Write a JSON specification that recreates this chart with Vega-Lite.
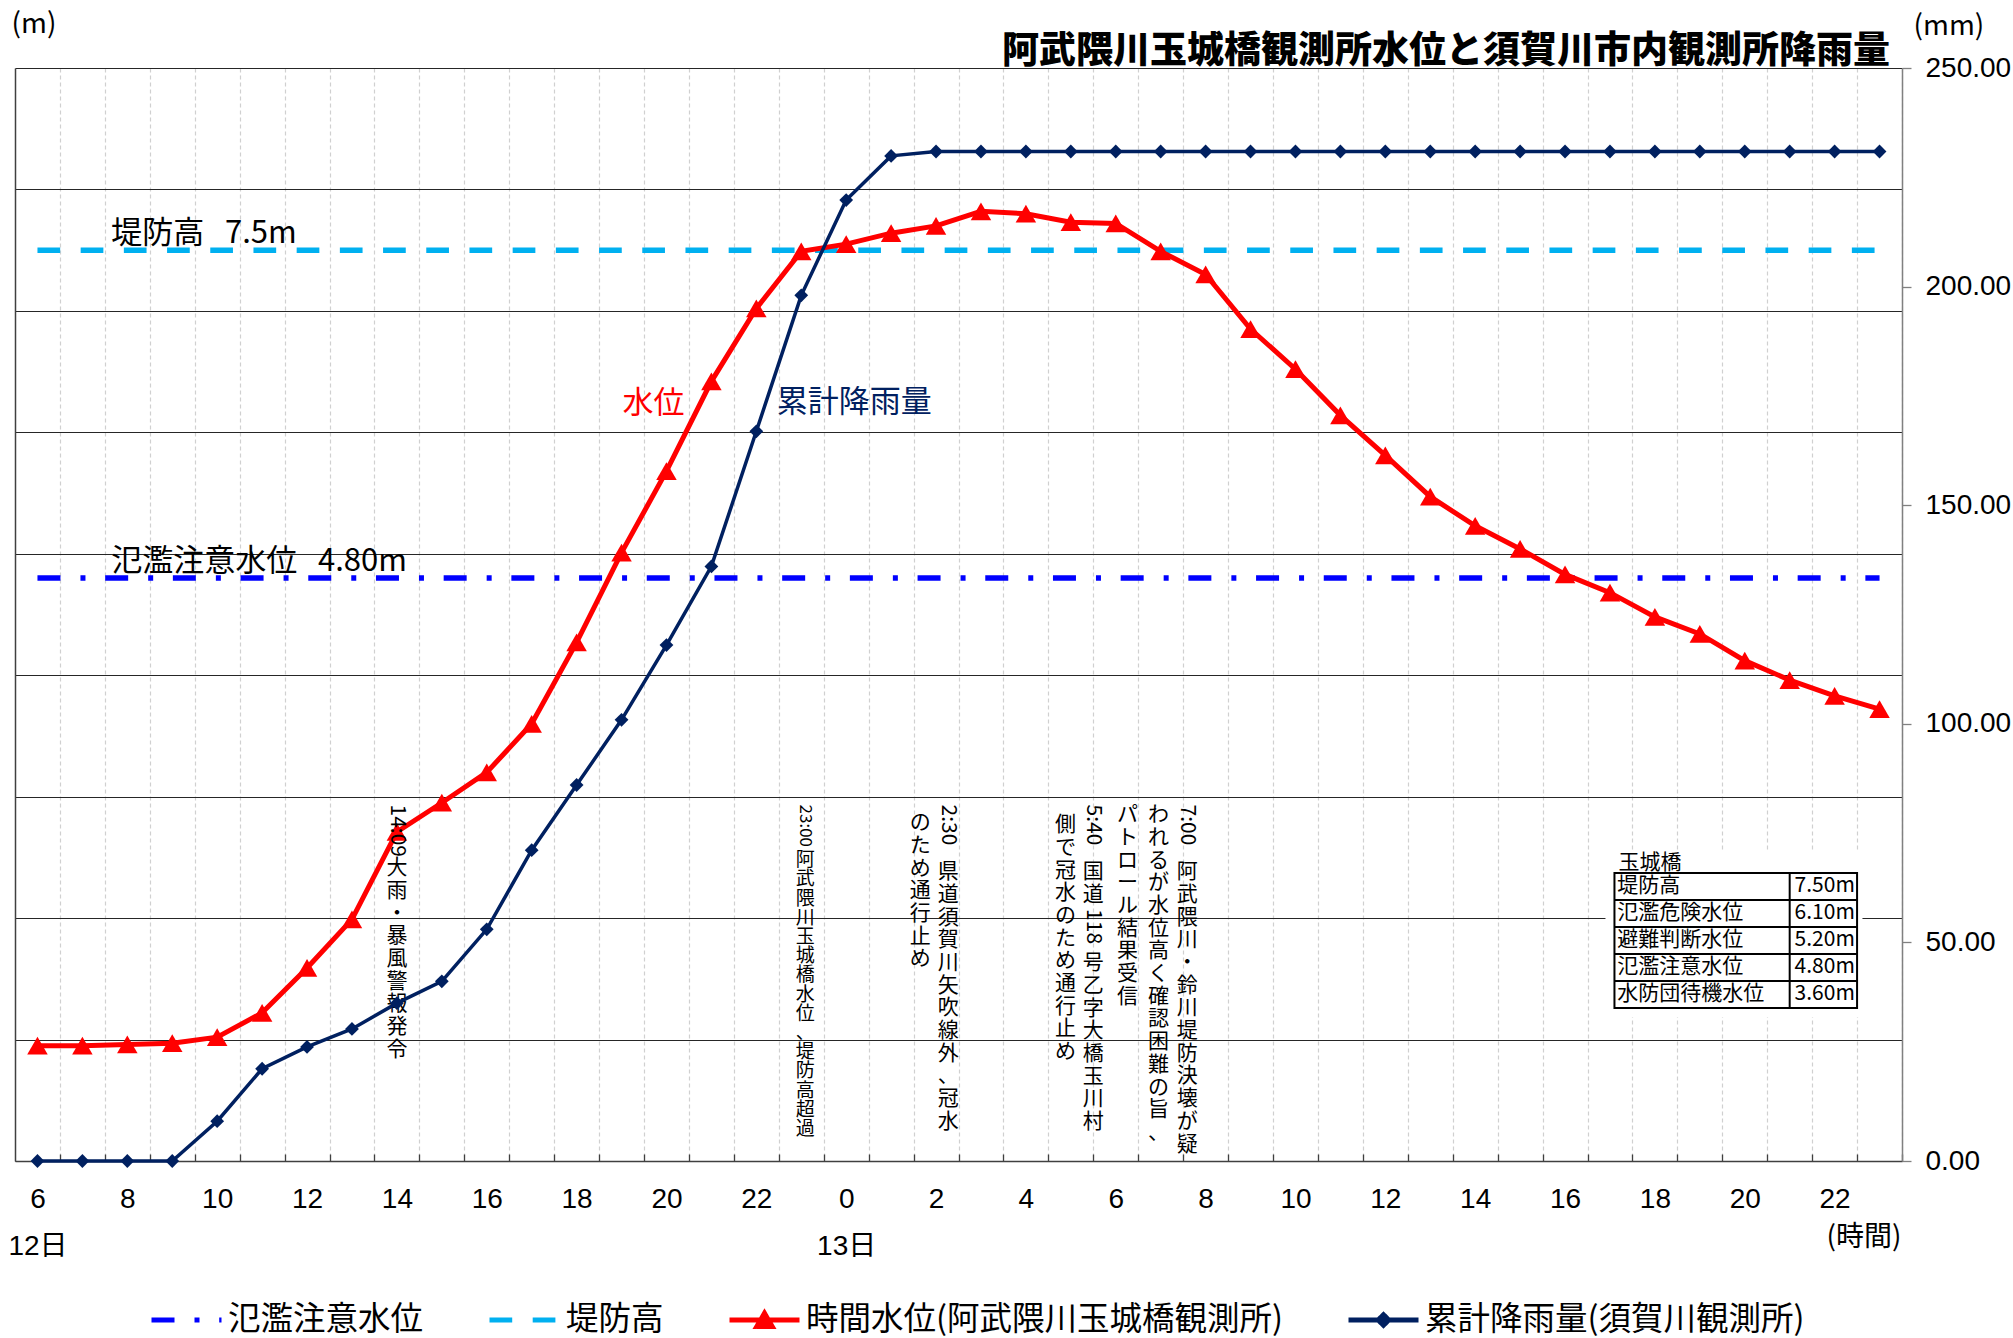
{
  "$schema": "https://vega.github.io/schema/vega-lite/v6.json",
  "width": 1887,
  "height": 1093,
  "autosize": {"type": "none"},
  "padding": {"left": 15, "top": 68, "right": 111, "bottom": 177},
  "background": "white",
  "title": {
    "text": "阿武隈川玉城橋観測所水位と須賀川市内観測所降雨量",
    "anchor": "end",
    "frame": "group",
    "font": "Noto Sans CJK JP",
    "fontSize": 37,
    "fontWeight": 900,
    "color": "black",
    "offset": -61,
    "dx": -12
  },
  "config": {
    "font": "Noto Sans CJK JP",
    "view": {"stroke": null},
    "text": {"color": "black"},
    "legend": {"symbolOpacity": 1, "symbolStrokeWidth": 5}
  },
  "datasets": {
    "level": [
      {"t": 6, "level": 0.95}, {"t": 7, "level": 0.95}, {"t": 8, "level": 0.96}, {"t": 9, "level": 0.97},
      {"t": 10, "level": 1.02}, {"t": 11, "level": 1.22}, {"t": 12, "level": 1.59}, {"t": 13, "level": 1.99},
      {"t": 14, "level": 2.71}, {"t": 15, "level": 2.95}, {"t": 16, "level": 3.2}, {"t": 17, "level": 3.6},
      {"t": 18, "level": 4.27}, {"t": 19, "level": 5.01}, {"t": 20, "level": 5.68}, {"t": 21, "level": 6.42},
      {"t": 22, "level": 7.02}, {"t": 23, "level": 7.49}, {"t": 24, "level": 7.55}, {"t": 25, "level": 7.64},
      {"t": 26, "level": 7.7}, {"t": 27, "level": 7.82}, {"t": 28, "level": 7.8}, {"t": 29, "level": 7.73},
      {"t": 30, "level": 7.72}, {"t": 31, "level": 7.49}, {"t": 32, "level": 7.3}, {"t": 33, "level": 6.85},
      {"t": 34, "level": 6.52}, {"t": 35, "level": 6.14}, {"t": 36, "level": 5.81}, {"t": 37, "level": 5.47},
      {"t": 38, "level": 5.23}, {"t": 39, "level": 5.04}, {"t": 40, "level": 4.83}, {"t": 41, "level": 4.68},
      {"t": 42, "level": 4.48}, {"t": 43, "level": 4.34}, {"t": 44, "level": 4.12}, {"t": 45, "level": 3.96},
      {"t": 46, "level": 3.83}, {"t": 47, "level": 3.72}
    ],
    "rain": [
      {"t": 6, "rain": 0}, {"t": 7, "rain": 0}, {"t": 8, "rain": 0}, {"t": 9, "rain": 0},
      {"t": 10, "rain": 9.1}, {"t": 11, "rain": 21.1}, {"t": 12, "rain": 26.1}, {"t": 13, "rain": 30.2},
      {"t": 14, "rain": 36.1}, {"t": 15, "rain": 41.1}, {"t": 16, "rain": 53.0}, {"t": 17, "rain": 71.1},
      {"t": 18, "rain": 86.0}, {"t": 19, "rain": 100.9}, {"t": 20, "rain": 118.0}, {"t": 21, "rain": 136.0},
      {"t": 22, "rain": 166.9}, {"t": 23, "rain": 198.0}, {"t": 24, "rain": 219.8}, {"t": 25, "rain": 229.9},
      {"t": 26, "rain": 230.9}, {"t": 27, "rain": 230.9}, {"t": 28, "rain": 230.9}, {"t": 29, "rain": 230.9},
      {"t": 30, "rain": 230.9}, {"t": 31, "rain": 230.9}, {"t": 32, "rain": 230.9}, {"t": 33, "rain": 230.9},
      {"t": 34, "rain": 230.9}, {"t": 35, "rain": 230.9}, {"t": 36, "rain": 230.9}, {"t": 37, "rain": 230.9},
      {"t": 38, "rain": 230.9}, {"t": 39, "rain": 230.9}, {"t": 40, "rain": 230.9}, {"t": 41, "rain": 230.9},
      {"t": 42, "rain": 230.9}, {"t": 43, "rain": 230.9}, {"t": 44, "rain": 230.9}, {"t": 45, "rain": 230.9},
      {"t": 46, "rain": 230.9}, {"t": 47, "rain": 230.9}
    ],
    "series": [
      {"series": "氾濫注意水位"},
      {"series": "堤防高"},
      {"series": "時間水位(阿武隈川玉城橋観測所)"},
      {"series": "累計降雨量(須賀川観測所)"}
    ],
    "thresholds": [
      {"series": "氾濫注意水位", "level": 4.8, "label": "氾濫注意水位\u00a0\u00a0\u00a04.80m"},
      {"series": "堤防高", "level": 7.5, "label": "堤防高\u00a0\u00a0\u00a07.5m"}
    ],
    "seriesLabels": [
      {"series": "時間水位(阿武隈川玉城橋観測所)", "text": "水位", "t": 19.71, "level": 6.23},
      {"series": "累計降雨量(須賀川観測所)", "text": "累計降雨量", "t": 24.18, "level": 6.24}
    ],
    "noteTimes": [
      {"t": 14.0, "level": 2.935, "text": "14:09"},
      {"t": 26.27, "level": 2.935, "text": "2:30"},
      {"t": 29.5, "level": 2.935, "text": "5:40"},
      {"t": 31.59, "level": 2.935, "text": "7:00"},
      {"t": 29.5, "level": 2.074, "text": "118"}
    ],
    "noteTime23": [
      {"t": 23.09, "level": 2.935, "text": "23:00"}
    ],
    "noteBodies": [
      {"t": 14.0, "level": 2.502, "text": "大\n雨\n・\n暴\n風\n警\n報\n発\n令"},
      {"t": 26.27, "level": 2.469, "text": "県\n道\n須\n賀\n川\n矢\n吹\n線\n外\n、\n冠\n水"},
      {"t": 25.65, "level": 2.872, "text": "の\nた\nめ\n通\n行\n止\nめ"},
      {"t": 29.5, "level": 2.469, "text": "国\n道"},
      {"t": 29.5, "level": 1.72, "text": "号\n乙\n字\n大\n橋\n玉\n川\n村"},
      {"t": 28.88, "level": 2.856, "text": "側\nで\n冠\n水\nの\nた\nめ\n通\n行\n止\nめ"},
      {"t": 31.59, "level": 2.469, "text": "阿\n武\n隈\n川\n・\n鈴\n川\n堤\n防\n決\n壊\nが\n疑"},
      {"t": 30.95, "level": 2.938, "text": "わ\nれ\nる\nが\n水\n位\n高\nく\n確\n認\n困\n難\nの\n旨\n、"},
      {"t": 30.26, "level": 2.938, "text": "パ\nト\nロ\nー\nル\n結\n果\n受\n信"}
    ],
    "noteBody23": [
      {"t": 23.09, "level": 2.551, "text": "阿\n武\n隈\n川\n玉\n城\n橋\n水\n位\n、\n堤\n防\n高\n超\n過"}
    ],
    "table": [
      {"row": 0, "label": "堤防高", "value": "7.50m"},
      {"row": 1, "label": "氾濫危険水位", "value": "6.10m"},
      {"row": 2, "label": "避難判断水位", "value": "5.20m"},
      {"row": 3, "label": "氾濫注意水位", "value": "4.80m"},
      {"row": 4, "label": "水防団待機水位", "value": "3.60m"}
    ],
    "tableTitle": [{"name": "玉城橋"}]
  },
  "layer": [
    {
      "data": {"name": "series"},
      "mark": {"type": "point", "filled": true, "opacity": 0},
      "encoding": {
        "color": {
          "field": "series", "type": "nominal",
          "scale": {"domain": ["氾濫注意水位", "堤防高", "時間水位(阿武隈川玉城橋観測所)", "累計降雨量(須賀川観測所)"], "range": ["#0000FF", "#00B0F0", "#FF0000", "#002060"]},
          "legend": {
            "title": null,
            "orient": "none",
            "direction": "horizontal",
            "columns": 4,
            "legendX": 134,
            "legendY": 1214,
            "padding": 0,
            "symbolSize": 4900,
            "symbolStrokeWidth": 5,
            "symbolOpacity": 1,
            "labelOffset": 4,
            "columnPadding": 55,
            "labelFont": "Noto Sans CJK JP",
            "labelFontSize": 32.5,
            "labelColor": "black",
            "labelLimit": 0
          }
        },
        "stroke": {
          "field": "series", "type": "nominal",
          "scale": {"domain": ["氾濫注意水位", "堤防高", "時間水位(阿武隈川玉城橋観測所)", "累計降雨量(須賀川観測所)"], "range": ["#0000FF", "#00B0F0", "#FF0000", "#002060"]},
          "legend": {"title": null}
        },
        "shape": {
          "field": "series", "type": "nominal",
          "scale": {"domain": ["氾濫注意水位", "堤防高", "時間水位(阿武隈川玉城橋観測所)", "累計降雨量(須賀川観測所)"], "range": ["M-1,0L1,0", "M-1,0L1,0", "M-1,0L1,0M-0.22,0.19L0,-0.19L0.22,0.19Z", "M-1,0L1,0M-0.15,0L0,-0.15L0.15,0L0,0.15Z"]},
          "legend": {"title": null}
        },
        "strokeDash": {
          "field": "series", "type": "nominal",
          "scale": {"domain": ["氾濫注意水位", "堤防高", "時間水位(阿武隈川玉城橋観測所)", "累計降雨量(須賀川観測所)"], "range": [[23, 20, 5, 19.7], [22.7, 20.5], [1, 0], [1, 0]]},
          "legend": {"title": null}
        }
      }
    },
    {
      "layer": [
        {
          "data": {"name": "thresholds"},
          "transform": [{"filter": "datum.series == '氾濫注意水位'"}],
          "mark": {"type": "rule", "strokeWidth": 5.5, "strokeCap": "butt", "color": "#0000FF", "strokeDash": [23, 20, 5, 19.7]},
          "encoding": {
            "x": {"datum": 6, "type": "quantitative", "scale": {"domain": [5.5, 47.5], "nice": false, "zero": false}},
            "x2": {"datum": 47},
            "y": {"field": "level", "type": "quantitative", "scale": {"domain": [0, 9], "nice": false, "zero": false}}
          }
        },
        {
          "data": {"name": "thresholds"},
          "transform": [{"filter": "datum.series == '堤防高'"}],
          "mark": {"type": "rule", "strokeWidth": 5.5, "strokeCap": "butt", "color": "#00B0F0", "strokeDash": [22.7, 20.5]},
          "encoding": {
            "x": {"datum": 6, "type": "quantitative", "scale": {"domain": [5.5, 47.5], "nice": false, "zero": false}},
            "x2": {"datum": 47},
            "y": {"field": "level", "type": "quantitative", "scale": {"domain": [0, 9], "nice": false, "zero": false}}
          }
        },
        {
          "data": {"name": "thresholds"},
          "mark": {"type": "text", "align": "left", "baseline": "alphabetic", "dy": -7, "fontSize": 31, "font": "Noto Sans CJK JP", "color": "black"},
          "encoding": {
            "x": {"datum": 7.64, "type": "quantitative", "scale": {"domain": [5.5, 47.5], "nice": false, "zero": false}},
            "y": {"field": "level", "type": "quantitative", "scale": {"domain": [0, 9], "nice": false, "zero": false}},
            "text": {"field": "label"}
          }
        },
        {
          "data": {"name": "level"},
          "mark": {"type": "line", "color": "#FF0000", "strokeWidth": 5},
          "encoding": {
            "x": {
              "field": "t", "type": "quantitative",
              "scale": {"domain": [5.5, 47.5], "nice": false, "zero": false},
              "axis": {
                "orient": "bottom",
                "values": [6, 7, 8, 9, 10, 11, 12, 13, 14, 15, 16, 17, 18, 19, 20, 21, 22, 23, 24, 25, 26, 27, 28, 29, 30, 31, 32, 33, 34, 35, 36, 37, 38, 39, 40, 41, 42, 43, 44, 45, 46, 47],
                "tickOffset": 22.4643,
                "labelOffset": -22.4643,
                "labelExpr": "datum.value % 2 != 0 ? '' : datum.value == 6 ? ['6', '12日'] : datum.value == 24 ? ['0', '13日'] : '' + (datum.value % 24)",
                "labelFont": "Liberation Sans, Noto Sans CJK JP",
                "labelFontSize": 28,
                "labelColor": "black",
                "labelLineHeight": 47,
                "labelPadding": 31,
                "labelFlush": false,
                "labelOverlap": false,
                "labelBound": false,
                "labelAngle": 0,
                "labelAlign": "center",
                "labelBaseline": "top",
                "grid": true,
                "gridColor": "#D0D0D0",
                "gridDash": [4, 3],
                "gridWidth": 1.2,
                "ticks": true,
                "tickSize": -7,
                "tickColor": "#404040",
                "tickWidth": 1.3,
                "domain": true,
                "domainColor": "#404040",
                "domainWidth": 1.5,
                "title": "(時間)",
                "titleX": 1886,
                "titleY": 76,
                "titleAlign": "right",
                "titleBaseline": "middle",
                "titleAngle": 0,
                "titleFont": "Noto Sans CJK JP",
                "titleFontSize": 28,
                "titleFontWeight": "normal",
                "titleColor": "black"
              }
            },
            "y": {
              "field": "level", "type": "quantitative",
              "scale": {"domain": [0, 9], "nice": false, "zero": false},
              "axis": {
                "orient": "left",
                "values": [0, 1, 2, 3, 4, 5, 6, 7, 8, 9],
                "labels": false,
                "ticks": false,
                "grid": true,
                "gridColor": "#262626",
                "gridWidth": 1.2,
                "domain": true,
                "domainColor": "#404040",
                "domainWidth": 1.5,
                "title": "(m)",
                "titleAngle": 0,
                "titleX": -4,
                "titleY": -44,
                "titleAlign": "left",
                "titleBaseline": "middle",
                "titleFont": "Noto Sans CJK JP",
                "titleFontSize": 28,
                "titleFontWeight": "normal",
                "titleColor": "black"
              }
            }
          }
        },
        {
          "data": {"name": "level"},
          "mark": {"type": "point", "shape": "triangle-up", "filled": true, "size": 420, "color": "#FF0000", "opacity": 1},
          "encoding": {
            "x": {"field": "t", "type": "quantitative", "scale": {"domain": [5.5, 47.5], "nice": false, "zero": false}},
            "y": {"field": "level", "type": "quantitative", "scale": {"domain": [0, 9], "nice": false, "zero": false}}
          }
        },
        {
          "data": {"name": "seriesLabels"},
          "transform": [{"filter": "datum.text == '水位'"}],
          "mark": {"type": "text", "align": "center", "baseline": "middle", "fontSize": 31, "font": "Noto Sans CJK JP", "color": "#FF0000"},
          "encoding": {
            "x": {"field": "t", "type": "quantitative", "scale": {"domain": [5.5, 47.5], "nice": false, "zero": false}},
            "y": {"field": "level", "type": "quantitative", "scale": {"domain": [0, 9], "nice": false, "zero": false}},
            "text": {"field": "text"}
          }
        },
        {
          "data": {"name": "seriesLabels"},
          "transform": [{"filter": "datum.text == '累計降雨量'"}],
          "mark": {"type": "text", "align": "center", "baseline": "middle", "fontSize": 31, "font": "Noto Sans CJK JP", "color": "#002060"},
          "encoding": {
            "x": {"field": "t", "type": "quantitative", "scale": {"domain": [5.5, 47.5], "nice": false, "zero": false}},
            "y": {"field": "level", "type": "quantitative", "scale": {"domain": [0, 9], "nice": false, "zero": false}},
            "text": {"field": "text"}
          }
        },
        {
          "data": {"name": "noteTimes"},
          "mark": {"type": "text", "angle": 90, "align": "left", "baseline": "middle", "fontSize": 21, "font": "Noto Sans CJK JP", "color": "black"},
          "encoding": {
            "x": {"field": "t", "type": "quantitative", "scale": {"domain": [5.5, 47.5], "nice": false, "zero": false}},
            "y": {"field": "level", "type": "quantitative", "scale": {"domain": [0, 9], "nice": false, "zero": false}},
            "text": {"field": "text"}
          }
        },
        {
          "data": {"name": "noteTime23"},
          "mark": {"type": "text", "angle": 90, "align": "left", "baseline": "middle", "fontSize": 17, "font": "Noto Sans CJK JP", "color": "black"},
          "encoding": {
            "x": {"field": "t", "type": "quantitative", "scale": {"domain": [5.5, 47.5], "nice": false, "zero": false}},
            "y": {"field": "level", "type": "quantitative", "scale": {"domain": [0, 9], "nice": false, "zero": false}},
            "text": {"field": "text"}
          }
        },
        {
          "data": {"name": "noteBodies"},
          "mark": {"type": "text", "align": "center", "baseline": "top", "fontSize": 21, "lineHeight": 22.7, "lineBreak": "\n", "font": "Noto Sans CJK JP", "color": "black"},
          "encoding": {
            "x": {"field": "t", "type": "quantitative", "scale": {"domain": [5.5, 47.5], "nice": false, "zero": false}},
            "y": {"field": "level", "type": "quantitative", "scale": {"domain": [0, 9], "nice": false, "zero": false}},
            "text": {"field": "text"}
          }
        },
        {
          "data": {"name": "noteBody23"},
          "mark": {"type": "text", "align": "center", "baseline": "top", "fontSize": 19, "lineHeight": 19.2, "lineBreak": "\n", "font": "Noto Sans CJK JP", "color": "black"},
          "encoding": {
            "x": {"field": "t", "type": "quantitative", "scale": {"domain": [5.5, 47.5], "nice": false, "zero": false}},
            "y": {"field": "level", "type": "quantitative", "scale": {"domain": [0, 9], "nice": false, "zero": false}},
            "text": {"field": "text"}
          }
        }
      ]
    },
    {
      "layer": [
        {
          "data": {"name": "rain"},
          "mark": {"type": "line", "color": "#002060", "strokeWidth": 3.5},
          "encoding": {
            "x": {"field": "t", "type": "quantitative", "scale": {"domain": [5.5, 47.5], "nice": false, "zero": false}},
            "y": {
              "field": "rain", "type": "quantitative",
              "scale": {"domain": [0, 250], "nice": false, "zero": false},
              "axis": {
                "orient": "right",
                "values": [0, 50, 100, 150, 200, 250],
                "format": ".2f",
                "grid": false,
                "ticks": true,
                "tickSize": 9,
                "tickColor": "#808080",
                "tickWidth": 1.3,
                "domain": true,
                "domainColor": "#808080",
                "domainWidth": 1.5,
                "labelFont": "Liberation Sans, Noto Sans CJK JP",
                "labelFontSize": 28,
                "labelColor": "black",
                "labelPadding": 14,
                "labelFlush": false,
                "labelOverlap": false,
                "labelBound": false,
                "title": "(mm)",
                "titleAngle": 0,
                "titleX": 11,
                "titleY": -42,
                "titleAlign": "left",
                "titleBaseline": "middle",
                "titleFont": "Noto Sans CJK JP",
                "titleFontSize": 28,
                "titleFontWeight": "normal",
                "titleColor": "black"
              }
            }
          }
        },
        {
          "data": {"name": "rain"},
          "mark": {"type": "point", "shape": "diamond", "filled": true, "size": 190, "color": "#002060", "opacity": 1},
          "encoding": {
            "x": {"field": "t", "type": "quantitative", "scale": {"domain": [5.5, 47.5], "nice": false, "zero": false}},
            "y": {"field": "rain", "type": "quantitative", "scale": {"domain": [0, 250], "nice": false, "zero": false}}
          }
        }
      ]
    },
    {
      "layer": [
        {
          "data": {"name": "tableTitle"},
          "mark": {"type": "rect", "fill": "white"},
          "encoding": {
            "x": {"datum": 40.9, "type": "quantitative", "scale": {"domain": [5.5, 47.5], "nice": false, "zero": false}},
            "x2": {"datum": 46.62},
            "y": {"datum": -0.852, "type": "quantitative", "scale": {"domain": [-29.815, 10.667], "nice": false, "zero": false, "reverse": true}, "axis": null},
            "y2": {"datum": 5.33}
          }
        },
        {
          "data": {"name": "tableTitle"},
          "mark": {"type": "text", "align": "left", "baseline": "alphabetic", "dy": -4, "fontSize": 21, "font": "Noto Sans CJK JP", "color": "black"},
          "encoding": {
            "x": {"datum": 41.19, "type": "quantitative", "scale": {"domain": [5.5, 47.5], "nice": false, "zero": false}},
            "y": {"datum": 0, "type": "quantitative", "scale": {"domain": [-29.815, 10.667], "nice": false, "zero": false, "reverse": true}, "axis": null},
            "text": {"field": "name"}
          }
        },
        {
          "data": {"name": "table"},
          "mark": {"type": "text", "align": "left", "baseline": "middle", "dy": 13.5, "fontSize": 21, "font": "Noto Sans CJK JP", "color": "black"},
          "encoding": {
            "x": {"datum": 41.16, "type": "quantitative", "scale": {"domain": [5.5, 47.5], "nice": false, "zero": false}},
            "y": {"field": "row", "type": "quantitative", "scale": {"domain": [-29.815, 10.667], "nice": false, "zero": false, "reverse": true}, "axis": null},
            "text": {"field": "label"}
          }
        },
        {
          "data": {"name": "table"},
          "mark": {"type": "text", "align": "right", "baseline": "middle", "dy": 13.5, "fontSize": 21, "font": "Noto Sans CJK JP", "color": "black"},
          "encoding": {
            "x": {"datum": 46.45, "type": "quantitative", "scale": {"domain": [5.5, 47.5], "nice": false, "zero": false}},
            "y": {"field": "row", "type": "quantitative", "scale": {"domain": [-29.815, 10.667], "nice": false, "zero": false, "reverse": true}, "axis": null},
            "text": {"field": "value"}
          }
        },
        {
          "data": {"name": "table"},
          "transform": [{"filter": "datum.row > 0"}],
          "mark": {"type": "rule", "color": "black", "strokeWidth": 2},
          "encoding": {
            "x": {"datum": 41.1, "type": "quantitative", "scale": {"domain": [5.5, 47.5], "nice": false, "zero": false}},
            "x2": {"datum": 46.5},
            "y": {"field": "row", "type": "quantitative", "scale": {"domain": [-29.815, 10.667], "nice": false, "zero": false, "reverse": true}, "axis": null}
          }
        },
        {
          "data": {"name": "tableTitle"},
          "mark": {"type": "rule", "color": "black", "strokeWidth": 2},
          "encoding": {
            "x": {"datum": 45.0, "type": "quantitative", "scale": {"domain": [5.5, 47.5], "nice": false, "zero": false}},
            "y": {"datum": 0, "type": "quantitative", "scale": {"domain": [-29.815, 10.667], "nice": false, "zero": false, "reverse": true}, "axis": null},
            "y2": {"datum": 5}
          }
        },
        {
          "data": {"name": "tableTitle"},
          "mark": {"type": "rect", "filled": false, "color": "black", "strokeWidth": 2},
          "encoding": {
            "x": {"datum": 41.1, "type": "quantitative", "scale": {"domain": [5.5, 47.5], "nice": false, "zero": false}},
            "x2": {"datum": 46.5},
            "y": {"datum": 0, "type": "quantitative", "scale": {"domain": [-29.815, 10.667], "nice": false, "zero": false, "reverse": true}, "axis": null},
            "y2": {"datum": 5}
          }
        }
      ]
    }
  ],
  "resolve": {"scale": {"y": "independent"}}
}
